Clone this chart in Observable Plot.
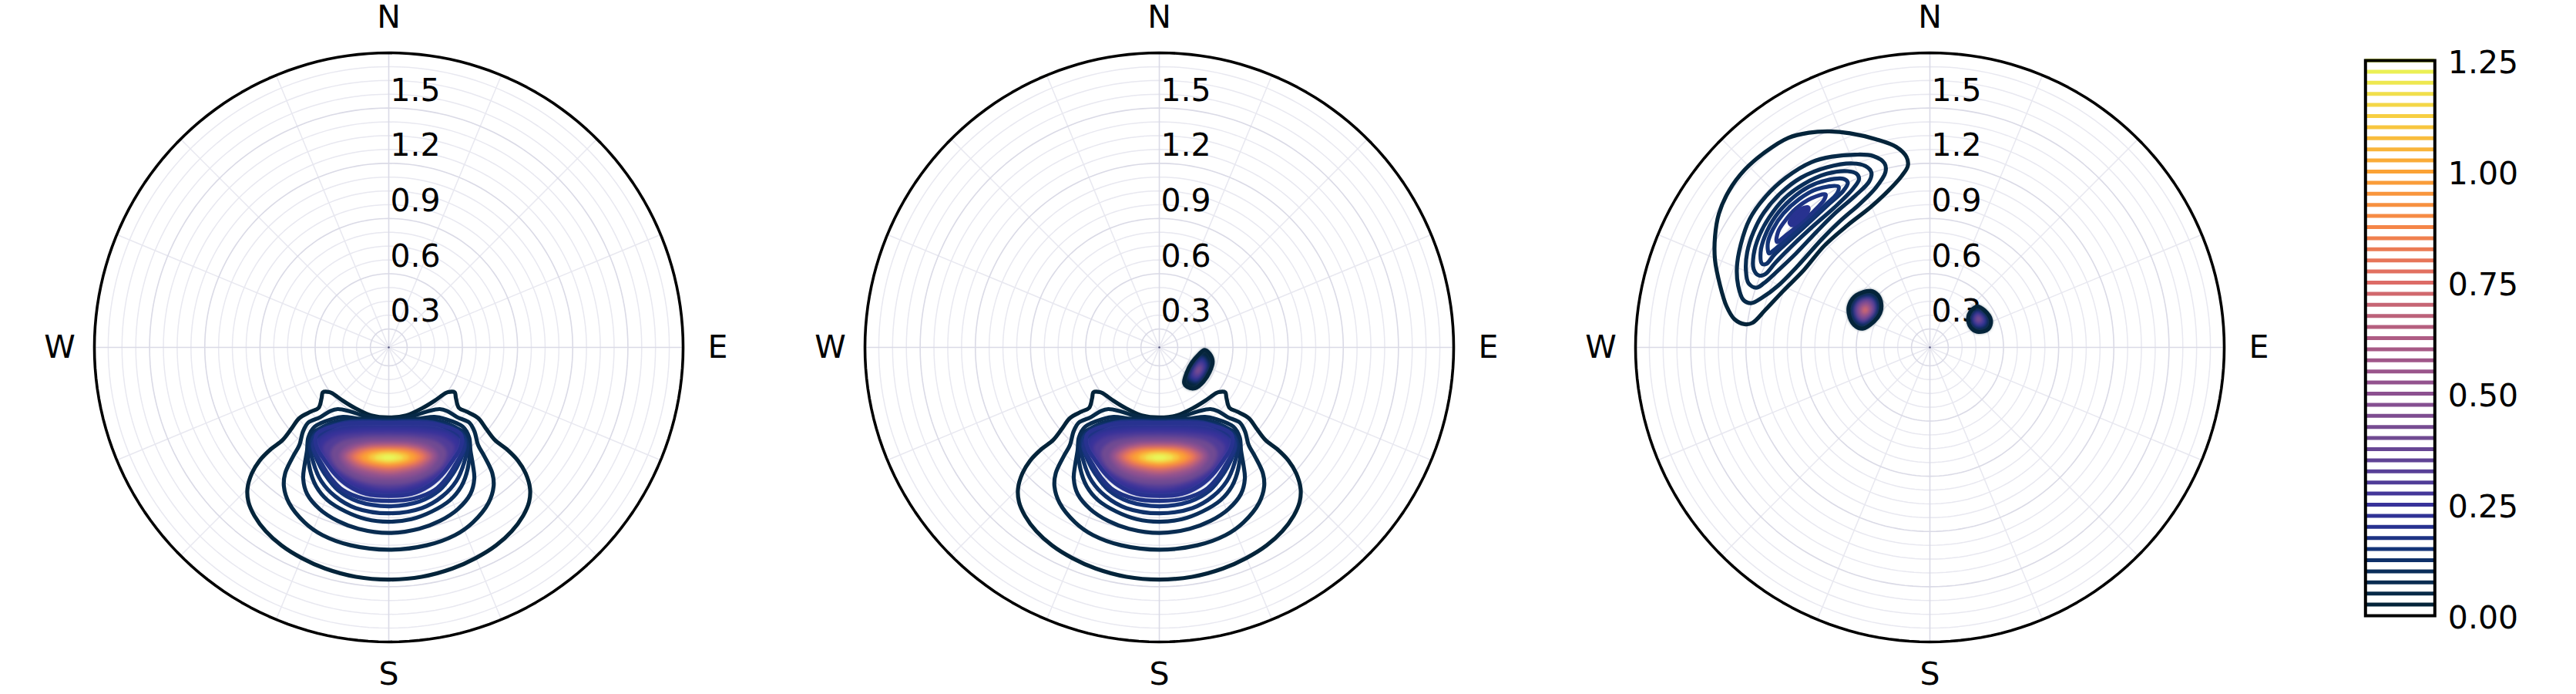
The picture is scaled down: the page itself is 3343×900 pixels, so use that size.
<!DOCTYPE html>
<html>
<head>
<meta charset="utf-8">
<script src="https://cdn.jsdelivr.net/npm/d3@7"></script>
<script src="https://cdn.jsdelivr.net/npm/@observablehq/plot@0.6"></script>
<style>
html,body{margin:0;background:#fff;width:3343px;height:900px;overflow:hidden}
#chart{position:relative;width:3343px;height:900px}
#chart svg{position:absolute;top:0;max-width:none}
</style>
</head>
<body>
<div id="chart"></div>
<script>
// Radial axis and compass
const ringStep = 0.075;
const ringMajor = [0, 0.3, 0.6, 0.9, 1.2];
const ringOuter = 1.5;
const ringLabels = [0.3, 0.6, 0.9, 1.2, 1.5];
const spokeMajor = [0, 90, 180, 270];
const spokeMinor = [22.5, 45, 67.5, 112.5, 135, 157.5, 202.5, 225, 247.5, 292.5, 315, 337.5];
const compass = [
  {label: "N", az: 0, at: 1.793},
  {label: "E", az: 90, at: 1.788},
  {label: "S", az: 180, at: 1.776},
  {label: "W", az: 270, at: 1.788}
];
const barTicks = [0, 0.25, 0.5, 0.75, 1, 1.25];
const barLevels = d3.range(1, 51).map(i => i * 0.025);

// Colour ramp
const rampValues = [0, .025, .05, .1, .15, .2, .25, .3, .4, .5, .625, .6875, .75, .875, 1, 1.125, 1.25];
const rampColors = ["#03202f","#04243a","#072a48","#0a2e5a","#143478","#283290","#38329a","#503c98","#704a92","#8c5090","#ae5c84","#c06478","#dd6b66","#f58548","#fba235","#f7cf42","#e8f85a"];

// Southern lobe, right half of each contour (east, north), panels 1 and 2
const lobeOpen = [
  [0.025, [[0,-.381],[.095,-.370],[.179,-.332],[.249,-.290],[.304,-.251],[.322,-.243],[.358,-.244],[.365,-.275],[.381,-.328],[.423,-.349],[.486,-.384],[.528,-.440],[.577,-.503],[.640,-.552],[.702,-.615],[.744,-.684],[.768,-.768],[.763,-.838],[.730,-.915],[.668,-.999],[.584,-1.075],[.472,-1.145],[.346,-1.201],[.179,-1.246],[0,-1.261]]],
  [0.05, [[0,-.387],[.123,-.374],[.207,-.349],[.277,-.335],[.318,-.346],[.374,-.380],[.437,-.408],[.465,-.454],[.486,-.531],[.521,-.594],[.563,-.684],[.570,-.754],[.542,-.845],[.458,-.950],[.360,-1.020],[.207,-1.075],[0,-1.099]]],
  [0.075, [[0,-.394],[.151,-.388],[.249,-.377],[.304,-.388],[.402,-.430],[.437,-.489],[.444,-.559],[.458,-.642],[.465,-.712],[.444,-.796],[.374,-.880],[.277,-.943],[.165,-.985],[0,-1.008]]],
  [0.1, [[0,-.398],[.179,-.398],[.263,-.398],[.360,-.433],[.423,-.475],[.440,-.545],[.430,-.656],[.395,-.754],[.332,-.831],[.235,-.891],[.123,-.933],[0,-.947]]],
  [0.125, [[0,-.402],[.221,-.405],[.388,-.454],[.427,-.531],[.409,-.628],[.367,-.726],[.290,-.810],[.179,-.873],[0,-.901]]],
  [0.15, [[0,-.405],[.235,-.408],[.399,-.475],[.416,-.531],[.388,-.615],[.346,-.691],[.277,-.775],[.165,-.838],[0,-.863]]],
  [0.175, [[0,-.408],[.249,-.412],[.395,-.489],[.409,-.545],[.367,-.628],[.318,-.705],[.249,-.775],[.137,-.821],[0,-.834]]]
];
const lobeCore = [
  [0.2, [[0,-.411],[.263,-.419],[.388,-.468],[.399,-.503],[.388,-.552],[.353,-.607],[.290,-.691],[.221,-.751],[.123,-.796],[0,-.807]]],
  [0.25, [[0,-.440],[.179,-.444],[.318,-.468],[.381,-.517],[.353,-.601],[.277,-.698],[.179,-.754],[0,-.787]]],
  [0.3, [[0,-.464],[.151,-.468],[.290,-.489],[.353,-.538],[.325,-.615],[.249,-.691],[.151,-.740],[0,-.768]]],
  [0.4, [[0,-.486],[.151,-.492],[.263,-.517],[.311,-.566],[.283,-.642],[.207,-.698],[.109,-.733],[0,-.743]]],
  [0.5, [[0,-.510],[.123,-.514],[.221,-.538],[.265,-.587],[.228,-.649],[.137,-.694],[0,-.712]]],
  [0.6, [[0,-.524],[.109,-.528],[.200,-.552],[.242,-.589],[.200,-.642],[.109,-.677],[0,-.691]]],
  [0.7, [[0,-.534],[.102,-.538],[.179,-.556],[.221,-.592],[.179,-.635],[.095,-.663],[0,-.676]]],
  [0.8, [[0,-.545],[.095,-.549],[.165,-.566],[.196,-.594],[.158,-.628],[.081,-.649],[0,-.659]]],
  [0.9, [[0,-.553],[.081,-.556],[.144,-.573],[.172,-.596],[.137,-.621],[.067,-.640],[0,-.647]]],
  [1.0, [[0,-.561],[.067,-.564],[.123,-.578],[.144,-.598],[.116,-.617],[.060,-.631],[0,-.637]]],
  [1.1, [[0,-.568],[.053,-.573],[.095,-.584],[.109,-.598],[.088,-.612],[.046,-.621],[0,-.626]]],
  [1.2, [[0,-.580],[.039,-.582],[.067,-.591],[.074,-.599],[.060,-.608],[.032,-.613],[0,-.616]]],
  [1.25, [[0,-.589],[.025,-.592],[.035,-.598],[.022,-.605],[0,-.606]]]
];

// Small blob, panel 2
const blobSE = [
  [0.025, [[.246,-.014],[.274,-.035],[.290,-.077],[.274,-.133],[.240,-.186],[.194,-.222],[.152,-.215],[.135,-.193],[.149,-.137],[.176,-.084],[.215,-.038]]],
  [0.1, [[.236,-.045],[.268,-.090],[.257,-.130],[.232,-.168],[.199,-.194],[.157,-.173],[.167,-.133],[.186,-.095]]],
  [0.2, [[.233,-.055],[.260,-.094],[.250,-.129],[.229,-.162],[.201,-.184],[.164,-.166],[.173,-.132],[.190,-.099]]],
  [0.3, [[.226,-.077],[.245,-.104],[.238,-.127],[.224,-.149],[.204,-.165],[.180,-.152],[.186,-.129],[.197,-.107]]],
  [0.4, [[.219,-.099],[.229,-.113],[.226,-.125],[.218,-.137],[.208,-.145],[.195,-.138],[.198,-.126],[.204,-.114]]],
  [0.45, [[.215,-.114],[.218,-.119],[.217,-.124],[.214,-.128],[.211,-.131],[.206,-.129],[.207,-.124],[.209,-.120]]]
];

// Panel 3: large north-west lobe
const lobeNW = [
  [0.025, [[-.546,1.173],[-.434,1.163],[-.295,1.131],[-.183,1.089],[-.127,1.034],[-.120,.985],[-.155,.929],[-.225,.852],[-.323,.761],[-.448,.663],[-.574,.552],[-.686,.419],[-.797,.307],[-.895,.203],[-.965,.133],[-1.007,.126],[-1.063,.154],[-1.105,.223],[-1.140,.335],[-1.168,.475],[-1.168,.601],[-1.147,.726],[-1.091,.852],[-1.007,.964],[-.895,1.061],[-.770,1.138],[-.658,1.166]]],
  [0.05, [[-.406,1.047],[-.309,1.040],[-.246,.999],[-.242,.950],[-.295,.866],[-.378,.782],[-.490,.684],[-.588,.587],[-.714,.447],[-.825,.335],[-.909,.272],[-.972,.240],[-1.014,.258],[-1.042,.335],[-1.049,.433],[-1.028,.559],[-.979,.698],[-.895,.817],[-.783,.922],[-.644,1.006],[-.532,1.036]]],
  [0.075, [[-.420,.999],[-.351,.985],[-.318,.950],[-.330,.901],[-.406,.824],[-.518,.726],[-.616,.628],[-.728,.510],[-.839,.405],[-.902,.349],[-.944,.324],[-.986,.349],[-1.000,.419],[-.993,.517],[-.958,.628],[-.902,.733],[-.811,.838],[-.700,.922],[-.560,.978]]],
  [0.1, [[-.448,.957],[-.399,.943],[-.385,.915],[-.420,.859],[-.518,.761],[-.630,.663],[-.742,.559],[-.839,.461],[-.895,.398],[-.930,.391],[-.958,.426],[-.958,.503],[-.930,.601],[-.874,.705],[-.790,.810],[-.686,.887],[-.560,.943]]],
  [0.125, [[-.469,.915],[-.446,.894],[-.469,.852],[-.560,.768],[-.658,.677],[-.756,.587],[-.846,.503],[-.888,.454],[-.912,.454],[-.920,.517],[-.898,.601],[-.839,.712],[-.756,.803],[-.658,.873],[-.560,.908]]],
  [0.15, [[-.497,.873],[-.504,.838],[-.574,.768],[-.672,.677],[-.770,.594],[-.853,.524],[-.874,.510],[-.881,.566],[-.853,.642],[-.797,.726],[-.714,.803],[-.616,.859]]],
  [0.175, [[-.567,.831],[-.574,.803],[-.630,.740],[-.700,.677],[-.783,.608],[-.832,.573],[-.825,.628],[-.790,.684],[-.728,.754],[-.644,.810]]],
  [0.2, [[-.662,.761],[-.665,.733],[-.707,.691],[-.749,.663],[-.763,.677],[-.749,.705],[-.707,.747]]]
];

// Panel 3: blob left of the centre
const blobNW = [
  [0.025, [[-.323,.306],[-.284,.286],[-.264,.237],[-.271,.184],[-.303,.141],[-.365,.102],[-.412,.122],[-.441,.184],[-.437,.235],[-.399,.284]]],
  [0.1, [[-.327,.291],[-.294,.274],[-.277,.232],[-.283,.187],[-.310,.150],[-.363,.117],[-.403,.134],[-.428,.187],[-.424,.230],[-.392,.272]]],
  [0.2, [[-.331,.275],[-.304,.261],[-.290,.227],[-.295,.190],[-.317,.160],[-.361,.132],[-.394,.146],[-.414,.190],[-.411,.225],[-.385,.260]]],
  [0.35, [[-.334,.265],[-.311,.253],[-.299,.223],[-.303,.192],[-.322,.166],[-.359,.142],[-.388,.154],[-.405,.192],[-.403,.222],[-.380,.252]]],
  [0.5, [[-.339,.246],[-.314,.217],[-.317,.195],[-.331,.177],[-.357,.161],[-.377,.169],[-.389,.195],[-.387,.216],[-.371,.237]]],
  [0.65, [[-.345,.226],[-.332,.210],[-.333,.199],[-.340,.189],[-.354,.181],[-.364,.185],[-.371,.199],[-.370,.210],[-.362,.221]]],
  [0.75, [[-.349,.209],[-.346,.205],[-.346,.202],[-.348,.199],[-.352,.197],[-.355,.198],[-.356,.202],[-.356,.205]]]
];

// Panel 3: blob right of the centre
const blobNE = [
  [0.025, [[.257,.222],[.297,.201],[.332,.147],[.317,.099],[.264,.084],[.229,.101],[.208,.147],[.218,.190]]],
  [0.1, [[.259,.203],[.288,.188],[.313,.149],[.302,.114],[.264,.104],[.239,.116],[.224,.149],[.231,.180]]],
  [0.2, [[.260,.196],[.284,.183],[.306,.150],[.297,.120],[.264,.111],[.242,.121],[.229,.150],[.235,.176]]],
  [0.3, [[.261,.183],[.278,.174],[.293,.151],[.286,.131],[.264,.125],[.249,.132],[.240,.151],[.245,.169]]],
  [0.4, [[.262,.169],[.271,.164],[.279,.152],[.276,.142],[.264,.139],[.256,.142],[.252,.152],[.254,.162]]],
  [0.45, [[.263,.159],[.267,.158],[.269,.153],[.268,.150],[.264,.148],[.261,.150],[.260,.153],[.260,.157]]]
];

// ---- build the tables ----
const whole = half => half.concat(half.slice(1, -1).reverse().map(([e, n]) => [-e, n]));
const mirrored = list => list.map(([level, half]) => [level, whole(half)]);
let uid = 0;
const rows = list => list.flatMap(([level, pts]) => {
  const id = uid++;
  return pts.map(([e, n]) => ({id, level, e, n}));
});

const toXY = (r, az) => {
  const a = az * Math.PI / 180;
  return {x: (r + 0.1) * Math.sin(a), y: (r + 0.1) * Math.cos(a)};
};
const sweep = d3.range(0, 361, 2);
const ringsAll = d3.range(0, 20).map(i => +(i * ringStep).toFixed(3));
const ringsMinor = ringsAll.filter(r => !ringMajor.includes(r));
const ringRows = list => list.flatMap(r => sweep.map(az => ({r, ...toXY(r, az)})));
const spokeRows = list => list.map(az => ({x2: toXY(ringOuter, az).x, y2: toXY(ringOuter, az).y}));

const W = 1000, H = 900, CX = 382, CY = 382;
const common = {
  width: W, height: H,
  marginLeft: W / 2 - CX, marginRight: W / 2 - CX, marginTop: H / 2 - CY, marginBottom: H / 2 - CY,
  x: {domain: [-1.6, 1.6], axis: null},
  y: {domain: [-1.6, 1.6], axis: null},
  color: {type: "linear", domain: rampValues, range: rampColors},
  style: {fontFamily: "'DejaVu Sans'", background: "transparent", overflow: "visible"}
};

const contourOpts = {x: "e", y: "n", z: "id", stroke: "level", curve: "catmull-rom-closed"};
const coreMarks = list => [
  Plot.line(rows(list), {...contourOpts, fill: "level", strokeWidth: 2, imageFilter: "blur(2px)"}),
];
const edgeMarks = list => [
  Plot.line(rows(list), {...contourOpts, strokeWidth: 5.2, fill: "none"})
];

const lobeOpenFull = mirrored(lobeOpen);
const lobeCoreFull = mirrored(lobeCore);

function panel(left, contours) {
  const svg = Plot.plot({
    ...common,
    marks: [
      Plot.line(ringRows(ringsMinor), {x: "x", y: "y", z: "r", stroke: "#e8e8f0", strokeWidth: 1.5}),
      Plot.link(spokeRows(spokeMinor), {x1: () => 0, y1: () => 0, x2: "x2", y2: "y2", stroke: "#e8e8f0", strokeWidth: 1.5}),
      Plot.line(ringRows(ringMajor), {x: "x", y: "y", z: "r", stroke: "#dadae6", strokeWidth: 1.6}),
      Plot.link(spokeRows(spokeMajor), {x1: () => 0, y1: () => 0, x2: "x2", y2: "y2", stroke: "#dadae6", strokeWidth: 1.6}),
      Plot.dot([0], {x: () => 0, y: () => 0, r: 1.2, fill: "#50507a"}),
      Plot.text(ringLabels, {x: () => 0, y: d => d + 0.1, text: d => d.toFixed(1), dx: 2, dy: 49, textAnchor: "start", fontSize: 41, fill: "black"}),
      Plot.line(ringRows([ringOuter]), {x: "x", y: "y", z: "r", stroke: "black", strokeWidth: 3.6}),
      Plot.text(compass, {x: d => d.at * Math.sin(d.az * Math.PI / 180), y: d => d.at * Math.cos(d.az * Math.PI / 180), text: "label", fontSize: 41, fill: "black"}),
      ...contours
    ]
  });
  svg.style.left = left + "px";
  document.getElementById("chart").append(svg);
}

const southLobe = [
  ...coreMarks(lobeCoreFull),
  ...edgeMarks(lobeOpenFull),
  ...edgeMarks(lobeCoreFull.slice(0, 1))
];

panel(3.7, southLobe);
panel(1003.7, [
  ...southLobe,
  ...coreMarks(blobSE),
  ...edgeMarks(blobSE.slice(0, 1))
]);
panel(2003.7, [
  ...edgeMarks(lobeNW.slice(0, 7)),
  Plot.line(rows(lobeNW.slice(7)), {...contourOpts, fill: "level", strokeWidth: 5.2}),
  ...coreMarks(blobNW),
  ...edgeMarks(blobNW.slice(0, 1)),
  ...coreMarks(blobNE),
  ...edgeMarks(blobNE.slice(0, 1))
]);

// Colour bar
const bar = Plot.plot({
  width: 339, height: 900,
  marginLeft: 65.3, marginRight: 183.7, marginTop: 78, marginBottom: 102,
  x: {axis: null},
  y: {domain: [0, 1.25], axis: null},
  color: {type: "linear", domain: rampValues, range: rampColors},
  style: {fontFamily: "'DejaVu Sans'", background: "transparent", overflow: "visible"},
  marks: [
    Plot.ruleY(barLevels, {y: d => d, stroke: d => d, strokeWidth: 5}),
    Plot.frame({stroke: "black", strokeWidth: 4}),
    Plot.axisY(barTicks, {anchor: "right", tickSize: 0, tickPadding: 17, tickFormat: ".2f", fontSize: 41, dy: 3, fill: "black", label: null})
  ]
});
bar.style.left = "3003.7px";
document.getElementById("chart").append(bar);
</script>
</body>
</html>
